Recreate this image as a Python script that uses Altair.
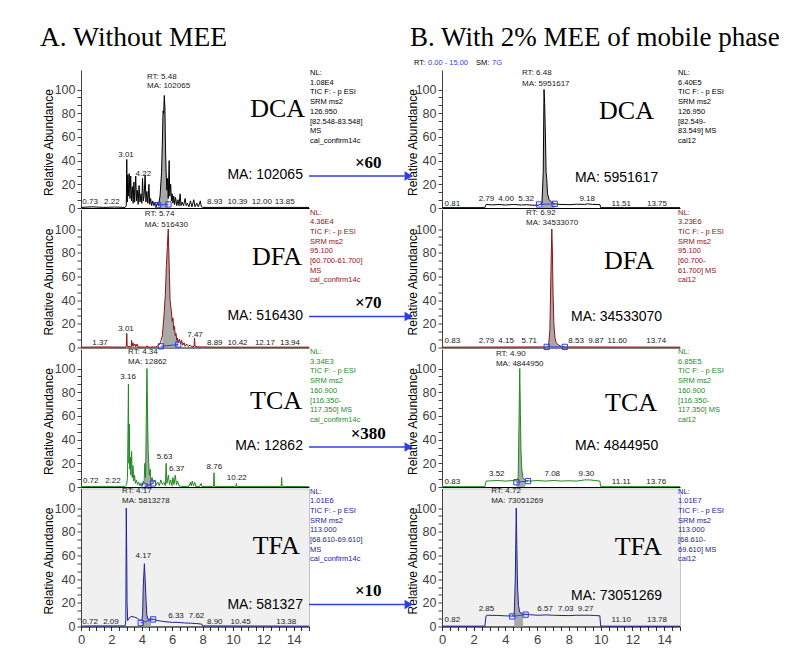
import altair as alt
import pandas as pd

SANS = "Liberation Sans"
SERIF = "Liberation Serif"
BLUE = "#2f3fe6"
GRAYFILL = "#a9a9a9"

# ---------------- chromatogram traces: (time [min], relative abundance [%]) ----------------
DCA_A = [(0, 0.5), (0.73, 1), (1.5, 0.5), (2.22, 0.8), (2.9, 0.5), (2.98, 2), (3.01, 41), (3.04, 5),
         (3.08, 28), (3.12, 10), (3.17, 29), (3.22, 8), (3.27, 27), (3.32, 6), (3.38, 18), (3.43, 4),
         (3.48, 22), (3.53, 5), (3.6, 27), (3.65, 6), (3.7, 15), (3.76, 3), (3.82, 19), (3.88, 5),
         (3.95, 12), (4.0, 4), (4.05, 25), (4.1, 6), (4.15, 10), (4.22, 28), (4.27, 5), (4.33, 14),
         (4.4, 4), (4.47, 20), (4.52, 3), (4.58, 8), (4.65, 2), (4.72, 6), (4.8, 2), (4.88, 5),
         (4.95, 1), (5.02, 4), (5.1, 2), (5.2, 10), (5.3, 30), (5.36, 60), (5.4, 82), (5.44, 80),
         (5.48, 95), (5.52, 85), (5.56, 50), (5.6, 30), (5.65, 15), (5.7, 25), (5.74, 8), (5.8, 40),
         (5.84, 10), (5.9, 20), (5.95, 6), (6.0, 12), (6.05, 4), (6.1, 10), (6.16, 3), (6.22, 9),
         (6.3, 2), (6.38, 7), (6.45, 2), (6.52, 12), (6.58, 2), (6.65, 5), (6.75, 2), (6.85, 8),
         (6.92, 2), (7.0, 4), (7.1, 1), (7.2, 6), (7.3, 1), (7.42, 7), (7.5, 1), (7.62, 4),
         (7.72, 1), (7.85, 6), (7.92, 1), (8.0, 0.5), (15, 0.5)]
DFA_A = [(0, 0.3), (1.37, 0.5), (2.9, 0.3), (2.98, 1), (3.01, 12), (3.04, 1), (3.3, 0.5), (3.33, 6),
         (3.36, 1), (3.42, 4), (3.46, 1), (3.55, 3), (3.6, 0.5), (3.7, 3), (3.75, 0.5), (4.3, 0.3),
         (4.35, 1.5), (4.4, 0.3), (4.9, 0.5), (5.0, 1), (5.2, 3), (5.35, 10), (5.45, 25), (5.55, 45),
         (5.62, 70), (5.68, 85), (5.74, 100), (5.78, 80), (5.82, 60), (5.86, 40), (5.9, 35),
         (5.95, 30), (6.0, 22), (6.05, 25), (6.1, 15), (6.15, 18), (6.2, 10), (6.25, 12), (6.3, 6),
         (6.35, 8), (6.4, 4), (6.48, 7), (6.55, 3), (6.62, 6), (6.7, 2), (6.78, 4), (6.85, 1),
         (6.95, 3), (7.05, 1), (7.2, 2), (7.3, 0.5), (7.44, 1), (7.47, 8), (7.5, 1), (7.7, 0.5),
         (8.0, 0.5), (8.89, 0.3), (15, 0.3)]
TCA_A = [(0, 0.3), (0.72, 0.5), (2.22, 0.5), (2.9, 0.5), (3.0, 2), (3.06, 8), (3.12, 87), (3.15, 20),
         (3.18, 53), (3.21, 15), (3.25, 25), (3.28, 10), (3.33, 30), (3.37, 8), (3.42, 18), (3.47, 5),
         (3.52, 10), (3.58, 3), (3.65, 6), (3.72, 2), (3.8, 4), (3.88, 1), (3.95, 3), (4.02, 1),
         (4.1, 5), (4.15, 3), (4.2, 20), (4.25, 8), (4.3, 64), (4.34, 100), (4.38, 60), (4.42, 30),
         (4.46, 20), (4.5, 10), (4.55, 15), (4.6, 5), (4.68, 8), (4.75, 3), (4.85, 6), (4.95, 2),
         (5.05, 4), (5.15, 1), (5.25, 6), (5.35, 2), (5.45, 4), (5.55, 1), (5.6, 20), (5.65, 3),
         (5.75, 10), (5.82, 2), (5.9, 6), (5.98, 1), (6.05, 8), (6.12, 2), (6.2, 10), (6.28, 2),
         (6.35, 5), (6.45, 1), (6.6, 0.5), (7.1, 0.5), (7.2, 4), (7.25, 1), (7.32, 5), (7.4, 1),
         (7.48, 4), (7.55, 0.5), (7.8, 0.5), (7.9, 3), (7.95, 0.5), (8.72, 0.5), (8.75, 12),
         (8.78, 0.5), (10.2, 0.5), (10.22, 3), (10.25, 0.5), (13.17, 0.5), (13.2, 8), (13.23, 0.5),
         (15, 0.3)]
TFA_A = [(0, 0.3), (0.72, 0.5), (2.09, 0.5), (2.9, 0.5), (2.95, 5), (2.98, 100), (3.01, 57),
         (3.03, 20), (3.07, 5), (3.15, 7), (3.3, 8.5), (3.5, 8), (3.7, 7), (3.85, 5.5), (4.0, 5),
         (4.05, 10), (4.1, 35), (4.17, 53), (4.22, 40), (4.28, 22), (4.33, 10), (4.4, 6), (4.6, 6.5),
         (4.8, 6), (5.0, 5), (5.3, 4.5), (5.6, 4), (6.0, 3.5), (6.33, 3.5), (6.8, 3), (7.2, 2.8),
         (7.62, 2.5), (7.95, 2), (8.0, 0.5), (15, 0.3)]
DCA_B = [(0, 0.3), (0.81, 0.3), (2.7, 0.3), (2.78, 3), (3.2, 2.6), (3.6, 3), (4.0, 2.5), (4.5, 3),
         (5.0, 2.5), (5.32, 2.8), (5.8, 2.3), (6.1, 2.5), (6.3, 4), (6.38, 30), (6.43, 100),
         (6.47, 88), (6.52, 60), (6.56, 30), (6.6, 25), (6.65, 12), (6.75, 7), (6.9, 5), (7.1, 3.5),
         (7.5, 3), (8.0, 2.8), (8.5, 3.2), (9.0, 3), (9.18, 3.5), (9.5, 3), (9.95, 3), (10.0, 0.3),
         (11.51, 0.3), (13.75, 0.3), (15, 0.3)]
DFA_B = [(0, 0.3), (6.6, 0.5), (6.72, 2), (6.8, 15), (6.86, 60), (6.92, 100), (6.96, 80), (7.0, 45),
         (7.05, 20), (7.12, 8), (7.2, 4), (7.35, 2), (7.5, 1), (7.7, 0.5), (15, 0.3)]
TCA_B = [(0, 0.3), (0.83, 0.3), (2.7, 0.3), (2.78, 5), (3.52, 5.5), (4.0, 5), (4.5, 5.5), (4.7, 5),
         (4.8, 8), (4.85, 50), (4.9, 100), (4.94, 62), (4.98, 30), (5.03, 15), (5.1, 8), (5.25, 5.5),
         (5.6, 5), (6.0, 5.5), (6.5, 5), (7.08, 5.5), (7.5, 5), (8.0, 5.3), (8.5, 5), (9.0, 6),
         (9.3, 6), (9.6, 5.5), (9.95, 5), (10.0, 0.3), (11.11, 0.3), (13.76, 0.3), (15, 0.3)]
TFA_B = [(0, 0.3), (0.82, 0.3), (2.7, 0.3), (2.78, 9), (2.85, 9.5), (3.5, 9.3), (4.0, 9), (4.4, 8.8),
         (4.55, 10), (4.62, 40), (4.68, 100), (4.72, 65), (4.76, 35), (4.82, 18), (4.9, 12),
         (5.1, 10.5), (5.5, 10), (6.0, 9.5), (6.57, 9.8), (7.03, 9.5), (7.5, 9.3), (8.0, 9.2),
         (8.5, 9.5), (9.27, 9.5), (9.6, 9.3), (9.95, 9), (10.0, 0.3), (11.10, 0.3), (13.78, 0.3),
         (15, 0.3)]

# integration boundaries (time, abundance)
INT_DCA_A = [(5.07, 2.5), (5.75, 3)]
INT_DFA_A = [(5.26, 1), (6.4, 2.5)]
INT_TCA_A = [(4.19, 0.5), (4.74, 3)]
INT_TFA_A = [(3.93, 3), (4.74, 6)]
INT_DCA_B = [(6.12, 3), (7.1, 3.5)]
INT_DFA_B = [(6.6, 0.5), (7.74, 0.5)]
INT_TCA_B = [(4.69, 4), (5.42, 5)]
INT_TFA_B = [(4.43, 8.5), (5.27, 10)]

# peak / baseline labels (text, time, abundance)
PK_DCA_A = [("3.01", 2.96, 43), ("4.22", 4.1, 27), ("0.73", 0.6, 3.4), ("2.22", 2.03, 3.4),
            ("8.93", 8.8, 3.4), ("10.39", 10.3, 3.4), ("12.00", 11.9, 3.4), ("13.85", 13.4, 3.4)]
PK_DFA_A = [("3.01", 2.96, 14), ("7.47", 7.5, 8.7), ("1.37", 1.25, 2.5), ("8.89", 8.8, 2.5),
            ("10.42", 10.3, 2.5), ("12.17", 12.1, 2.5), ("13.94", 13.75, 2.5)]
PK_TCA_A = [("3.16", 3.1, 91.5), ("5.63", 5.5, 24), ("6.37", 6.3, 13.5), ("8.76", 8.77, 15),
            ("10.22", 10.25, 6), ("0.72", 0.64, 3.4), ("2.22", 2.1, 3.4)]
PK_TFA_A = [("4.17", 4.1, 57.5), ("6.33", 6.25, 7), ("7.62", 7.6, 7), ("0.72", 0.6, 2.5),
            ("2.09", 1.97, 2.5), ("8.90", 8.8, 2.5), ("10.45", 10.5, 2.5), ("13.38", 13.5, 2.5)]
PK_DCA_B = [("0.81", 0.65, 2), ("2.79", 2.8, 6.3), ("4.00", 4.04, 6.3), ("5.32", 5.3, 6.3),
            ("9.18", 9.15, 6.3), ("11.51", 11.3, 2), ("13.75", 13.55, 2)]
PK_DFA_B = [("0.83", 0.65, 3.4), ("2.79", 2.8, 3.4), ("4.15", 4.04, 3.4), ("5.71", 5.5, 3.4),
            ("8.53", 8.45, 3.4), ("9.87", 9.7, 3.4), ("11.60", 11.05, 3.4), ("13.74", 13.5, 3.4)]
PK_TCA_B = [("0.83", 0.65, 2.8), ("3.52", 3.45, 9), ("7.08", 6.95, 9), ("9.30", 9.1, 9),
            ("11.11", 11.3, 2.8), ("13.76", 13.5, 2.8)]
PK_TFA_B = [("0.82", 0.65, 4), ("2.85", 2.8, 13), ("6.57", 6.5, 13), ("7.03", 7.8, 13),
            ("9.27", 9.05, 13), ("11.10", 11.3, 4), ("13.78", 13.55, 4)]

# RT / MA labels above the main peak: (line1, line2, time, abundance1, abundance2)
RT_DCA_A = ("RT: 5.48", "MA: 102065", 4.34, 109, 101.7)
RT_DFA_A = ("RT: 5.74", "MA: 516430", 4.2, 111, 101.7)
RT_TCA_A = ("RT: 4.34", "MA: 12862", 3.1, 112, 103.5)
RT_TFA_A = ("RT: 4.17", "MA: 5813278", 2.7, 112.7, 104)
RT_DCA_B = ("RT: 6.48", "MA: 5951617", 5.04, 112, 103)
RT_DFA_B = ("RT: 6.92", "MA: 34533070", 5.3, 112, 103.5)
RT_TCA_B = ("RT: 4.90", "MA: 4844950", 3.4, 111, 102.5)
RT_TFA_B = ("RT: 4.72", "MA: 73051269", 3.1, 112.5, 104)

# instrument info blocks
INFO_DCA_A = ["NL:", "1.08E4", "TIC F: - p ESI", "SRM ms2", "126.950", "[82.548-83.548]", "MS", "cal_confirm14c"]
INFO_DFA_A = ["NL:", "4.36E4", "TIC F: - p ESI", "SRM ms2", "95.100", "[60.700-61.700]", "MS", "cal_confirm14c"]
INFO_TCA_A = ["NL:", "3.34E3", "TIC F: - p ESI", "SRM ms2", "160.900", "[116.350-", "117.350]  MS", "cal_confirm14c"]
INFO_TFA_A = ["NL:", "1.01E6", "TIC F: - p ESI", "SRM ms2", "113.000", "[68.610-69.610]", "MS", "cal_confirm14c"]
INFO_DCA_B = ["NL:", "6.40E5", "TIC F: - p ESI", "SRM ms2", "126.950", "[82.549-", "83.549]  MS", "cal12"]
INFO_DFA_B = ["NL:", "3.23E6", "TIC F: - p ESI", "SRM ms2", "95.100", "[60.700-", "61.700]  MS", "cal12"]
INFO_TCA_B = ["NL:", "6.85E5", "TIC F: - p ESI", "SRM ms2", "160.900", "[116.350-", "117.350]  MS", "cal12"]
INFO_TFA_B = ["NL:", "1.01E7", "TIC F: - p ESI", "SRM ms2", "113.000", "[68.610-", "69.610]  MS", "cal12"]

# compound name position (time of right edge, abundance of baseline)
NAME_POS_A = {"DCA": (14.74, 76.8), "DFA": (14.54, 70), "TCA": (14.54, 65.9), "TFA": (14.4, 60.8)}
NAME_POS_B = {"DCA": (13.36, 75), "DFA": (13.36, 66), "TCA": (13.55, 64), "TFA": (13.86, 60)}
MA_A = {"DCA": ("MA: 102065", 24.6), "DFA": ("MA: 516430", 23.5), "TCA": ("MA: 12862", 31), "TFA": ("MA: 581327", 15)}
MA_B = {"DCA": ("MA: 5951617", 22), "DFA": ("MA: 34533070", 22.7), "TCA": ("MA: 4844950", 31), "TFA": ("MA: 73051269", 22.5)}
ARROW_V = {"DCA": 27, "DFA": 26.2, "TCA": 33.8, "TFA": 18.6}
FACTOR = {"DCA": "×60", "DFA": "×70", "TCA": "×380", "TFA": "×10"}

COLORS = {"DCA": "#000000", "DFA": "#8e1414", "TCA": "#1f8a1f", "TFA": "#20209c"}

W_A, W_B, H = 228, 238, 138
YMAX = 116.5


def pairs(lst):
    return pd.DataFrame(lst, columns=["t", "v"])


def make_panel(name, side, trace, integ, peaks, rt, info, bottom):
    color = COLORS[name]
    width = W_A if side == "A" else W_B
    x_ticks = [i * 0.5 for i in range(31)]
    if bottom:
        xax = alt.Axis(values=x_ticks, labelExpr="(datum.value % 2 == 0 && datum.value < 15) ? format(datum.value, 'd') : ''",
                       labelFont=SANS, labelFontSize=13, labelColor="#404040", tickSize=4, tickColor="#303030",
                       domainColor="#000000", labelPadding=3, labelFlush=False, title=None, grid=False)
    else:
        xax = alt.Axis(labels=False, ticks=False, domainColor="#000000", title=None, grid=False)
    y_ticks = [i * 20 / 3 for i in range(16)]
    yax = alt.Axis(values=y_ticks,
                   labelExpr="abs(datum.value - round(datum.value / 20) * 20) < 0.01 ? format(datum.value, 'd') : ''",
                   labelFont=SANS, labelFontSize=12.5, labelColor="#404040", tickSize=4, tickColor="#404040",
                   domainColor="#404040", labelPadding=2, labelFlush=False, grid=False,
                   title="Relative Abundance", titleFont=SANS, titleFontSize=12, titleFontWeight=500,
                   titleColor="#000000", titleAngle=270, titleX=-33 if side == "A" else -30, titleY=72,
                   titleAlign="center", titleBaseline="middle")
    xs = alt.Scale(domain=[0, 15], nice=False, zero=False)
    ys = alt.Scale(domain=[0, YMAX], nice=False, zero=False)
    X = alt.X("t:Q", scale=xs, axis=xax)
    Y = alt.Y("v:Q", scale=ys, axis=yax)

    tr = pairs(trace)
    a0, a1 = integ[0][0], integ[1][0]
    layers = []
    layers.append(alt.Chart(tr).transform_filter((alt.datum.t >= a0) & (alt.datum.t <= a1))
                  .mark_area(color=GRAYFILL, opacity=1).encode(x=X, y=Y))
    layers.append(alt.Chart(tr).mark_line(color=color, strokeWidth=1, interpolate="linear").encode(x=X, y=Y))
    idf = pairs(integ)
    layers.append(alt.Chart(idf).mark_line(color=BLUE, strokeWidth=1).encode(x=X, y=Y))
    layers.append(alt.Chart(idf).mark_point(shape="square", filled=False, size=28, color=BLUE,
                                            strokeWidth=1, opacity=1).encode(x=X, y=Y))
    pk = pd.DataFrame(peaks, columns=["s", "t", "v"])
    layers.append(alt.Chart(pk).mark_text(font=SANS, fontSize=8, color="#202020", align="center",
                                          baseline="alphabetic").encode(x=X, y=Y, text="s:N"))
    rtd = pd.DataFrame({"s": [rt[0], rt[1]], "t": [rt[2], rt[2]], "v": [rt[3], rt[4]]})
    layers.append(alt.Chart(rtd).mark_text(font=SANS, fontSize=8, color="#202020", align="left",
                                           baseline="alphabetic").encode(x=X, y=Y, text="s:N"))
    inf = pd.DataFrame({"s": ["\n".join(info)]})
    layers.append(alt.Chart(inf).mark_text(font=SANS, fontSize=7.5, color=color, align="left", baseline="top",
                                           lineBreak="\n", lineHeight=9.7)
                  .encode(text="s:N", x=alt.value(width + 1 if side == "A" else width - 2), y=alt.value(-1)))
    npos = (NAME_POS_A if side == "A" else NAME_POS_B)[name]
    nd = pd.DataFrame({"s": [name], "t": [npos[0]], "v": [npos[1]]})
    layers.append(alt.Chart(nd).mark_text(font=SERIF, fontSize=26, color="#000000", align="right",
                                          baseline="alphabetic").encode(x=X, y=Y, text="s:N"))
    if side == "A":
        ma, mv = MA_A[name]
        md = pd.DataFrame({"s": [ma], "t": [14.6], "v": [mv]})
        layers.append(alt.Chart(md).mark_text(font=SANS, fontSize=14, color="#000000", align="right",
                                              baseline="alphabetic").encode(x=X, y=Y, text="s:N"))
        av = ARROW_V[name]
        ad = pd.DataFrame({"t": [15.0], "t2": [21.3], "v": [av]})
        layers.append(alt.Chart(ad).mark_rule(color=BLUE, strokeWidth=1.5).encode(x=X, x2="t2:Q", y=Y))
        fd = pd.DataFrame({"s": [FACTOR[name]], "t": [18.9], "v": [av + 6.8]})
        layers.append(alt.Chart(fd).mark_text(font=SERIF, fontSize=17, fontWeight="bold", color="#000000",
                                              align="center", baseline="alphabetic").encode(x=X, y=Y, text="s:N"))
    else:
        ma, mv = MA_B[name]
        md = pd.DataFrame({"s": [ma], "t": [11.0], "v": [mv]})
        layers.append(alt.Chart(md).mark_text(font=SANS, fontSize=14, color="#000000", align="center",
                                              baseline="alphabetic").encode(x=X, y=Y, text="s:N"))
        hd = pd.DataFrame({"t": [-2.1], "v": [ARROW_V[name]]})
        layers.append(alt.Chart(hd).mark_point(shape="triangle-right", filled=True, size=90, color=BLUE,
                                               opacity=1).encode(x=X, y=Y))
    if name == "DCA":
        if side == "A":
            td = pd.DataFrame({"s": ["A. Without MEE"]})
            layers.append(alt.Chart(td).mark_text(font=SERIF, fontSize=27.5, color="#000000", align="left",
                                                  baseline="alphabetic")
                          .encode(text="s:N", x=alt.value(-41), y=alt.value(-24)))
        else:
            td = pd.DataFrame({"s": ["B. With 2% MEE of mobile phase"]})
            layers.append(alt.Chart(td).mark_text(font=SERIF, fontSize=27, color="#000000", align="left",
                                                  baseline="alphabetic")
                          .encode(text="s:N", x=alt.value(-32), y=alt.value(-24)))
            sm = pd.DataFrame({"s": ["RT:", "0.00 - 15.00", "SM:", "7G"], "px": [-28, -14, 34, 50],
                               "c": ["#000000", BLUE, "#000000", BLUE]})
            layers.append(alt.Chart(sm).mark_text(font=SANS, fontSize=7.5, align="left", baseline="alphabetic")
                          .encode(text="s:N", x=alt.X("px:Q", scale=None), y=alt.value(-5),
                                  color=alt.Color("c:N", scale=None)))
    ch = alt.layer(*layers).properties(width=width, height=H)
    if name == "TFA":
        ch = ch.properties(view=alt.ViewBackground(fill="#f0f0f0", stroke="#c4c4c4"))
    else:
        ch = ch.properties(view=alt.ViewBackground(stroke=None))
    return ch


SPEC = [
    ("DCA", DCA_A, INT_DCA_A, PK_DCA_A, RT_DCA_A, INFO_DCA_A, DCA_B, INT_DCA_B, PK_DCA_B, RT_DCA_B, INFO_DCA_B),
    ("DFA", DFA_A, INT_DFA_A, PK_DFA_A, RT_DFA_A, INFO_DFA_A, DFA_B, INT_DFA_B, PK_DFA_B, RT_DFA_B, INFO_DFA_B),
    ("TCA", TCA_A, INT_TCA_A, PK_TCA_A, RT_TCA_A, INFO_TCA_A, TCA_B, INT_TCA_B, PK_TCA_B, RT_TCA_B, INFO_TCA_B),
    ("TFA", TFA_A, INT_TFA_A, PK_TFA_A, RT_TFA_A, INFO_TFA_A, TFA_B, INT_TFA_B, PK_TFA_B, RT_TFA_B, INFO_TFA_B),
]

panels = []
for name, ta, ia, pa, ra, fa, tb, ib, pb, rb, fb in SPEC:
    bottom = name == "TFA"
    panels.append(make_panel(name, "A", ta, ia, pa, ra, fa, bottom))
    panels.append(make_panel(name, "B", tb, ib, pb, rb, fb, bottom))

chart = alt.concat(*panels, columns=2, spacing=alt.RowColnumber(row=1.5, column=133),
                   bounds="flush", align="each").properties(
    padding={"left": 32, "top": 16, "right": 5, "bottom": 5},
    background="white",
).configure_view(stroke=None)

chart.save("out.html", embed_options={"renderer": "svg", "actions": False})
